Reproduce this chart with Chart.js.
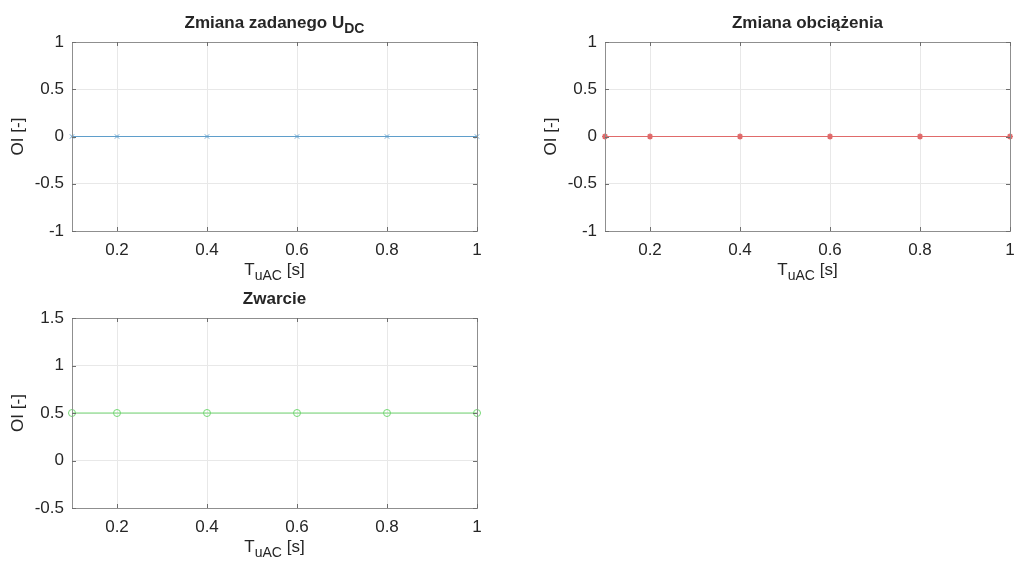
<!DOCTYPE html>
<html>
<head>
<meta charset="utf-8">
<script src="https://cdn.jsdelivr.net/npm/chart.js@4"></script>
<style>
  html, body { margin: 0; padding: 0; background: #fff; }
  body { width: 1016px; height: 563px; position: relative; overflow: hidden; }
  .wrap { position: absolute; }
</style>
</head>
<body>
<div class="wrap" style="left:0;top:0;width:508px;height:281px;"><canvas id="c1"></canvas></div>
<div class="wrap" style="left:533px;top:0;width:483px;height:281px;"><canvas id="c2"></canvas></div>
<div class="wrap" style="left:0;top:276px;width:508px;height:282px;"><canvas id="c3"></canvas></div>
<script>
// dane
const tuac = [0.1, 0.2, 0.4, 0.6, 0.8, 1];
const oiUdc = [0, 0, 0, 0, 0, 0];
const oiObc = [0, 0, 0, 0, 0, 0];
const oiZw = [0.5, 0.5, 0.5, 0.5, 0.5, 0.5];

const xTicks = [0.2, 0.4, 0.6, 0.8, 1];
const yTicksA = [-1, -0.5, 0, 0.5, 1];
const yTicksB = [-0.5, 0, 0.5, 1, 1.5];

const FONT = "'Liberation Sans', Arial, Helvetica, sans-serif";
const TXT = '#262626';

// ramka, znaczniki osi, tytuły z indeksem dolnym
const matlabAxes = {
  id: 'matlabAxes',
  afterDraw(chart, args, opts) {
    const { ctx, chartArea: a, scales } = chart;
    ctx.save();
    // box
    ctx.strokeStyle = '#8f8f8f';
    ctx.lineWidth = 1;
    ctx.strokeRect(Math.round(a.left) + 0.5, Math.round(a.top) + 0.5,
                   Math.round(a.right - a.left), Math.round(a.bottom - a.top));
    // ticki do środka
    ctx.strokeStyle = '#6e6e6e';
    ctx.beginPath();
    scales.x.ticks.forEach(t => {
      const px = Math.round(scales.x.getPixelForValue(t.value)) + 0.5;
      ctx.moveTo(px, a.bottom); ctx.lineTo(px, a.bottom - 4);
      ctx.moveTo(px, a.top); ctx.lineTo(px, a.top + 4);
    });
    scales.y.ticks.forEach(t => {
      const py = Math.round(scales.y.getPixelForValue(t.value)) + 0.5;
      ctx.moveTo(a.left, py); ctx.lineTo(a.left + 4, py);
      ctx.moveTo(a.right, py); ctx.lineTo(a.right - 4, py);
    });
    ctx.stroke();

    ctx.fillStyle = TXT;
    const cx = (a.left + a.right) / 2;
    // tytuł
    drawSub(ctx, opts.title, opts.titleSub, cx, a.top - 14, 'bold 17px ' + FONT, 'bold 14px ' + FONT);
    // oś x
    drawSub(ctx, 'T', 'uAC', cx, a.bottom + 44, '17px ' + FONT, '14px ' + FONT, ' [s]');
    // oś y
    ctx.save();
    ctx.translate(18, (a.top + a.bottom) / 2);
    ctx.rotate(-Math.PI / 2);
    ctx.font = '17px ' + FONT;
    ctx.textAlign = 'center';
    ctx.textBaseline = 'middle';
    ctx.fillText('OI [-]', 0, 0);
    ctx.restore();
    ctx.restore();
  }
};

function drawSub(ctx, main, sub, cx, y, f1, f2, tail) {
  tail = tail || '';
  ctx.font = f1;
  const w1 = ctx.measureText(main).width;
  const w3 = ctx.measureText(tail).width;
  ctx.font = f2;
  const w2 = sub ? ctx.measureText(sub).width : 0;
  let x = cx - (w1 + w2 + w3) / 2;
  ctx.textAlign = 'left';
  ctx.textBaseline = 'alphabetic';
  ctx.font = f1;
  ctx.fillText(main, x, y);
  x += w1;
  if (sub) {
    ctx.font = f2;
    ctx.fillText(sub, x, y + 5);
    x += w2;
  }
  ctx.font = f1;
  ctx.fillText(tail, x, y);
}

function makeChart(id, ys, color, style, yTicks, title, titleSub, rightPad) {
  new Chart(document.getElementById(id), {
    type: 'line',
    data: {
      datasets: [{
        data: tuac.map((x, i) => ({ x, y: ys[i] })),
        borderColor: color,
        borderWidth: 1,
        pointStyle: style,
        pointRadius: style === 'circle' ? 3.5 : 3,
        pointBorderWidth: style === 'star' ? 1.5 : 1,
        pointBorderColor: color,
        pointBackgroundColor: 'rgba(0,0,0,0)',
        clip: false,
        tension: 0
      }]
    },
    options: {
      responsive: true,
      maintainAspectRatio: false,
      animation: false,
      layout: { padding: { top: 42, right: rightPad, left: 0, bottom: 0 } },
      plugins: {
        legend: { display: false },
        tooltip: { enabled: false },
        matlabAxes: { title, titleSub }
      },
      scales: {
        x: {
          type: 'linear',
          min: 0.1, max: 1,
          afterBuildTicks: s => { s.ticks = xTicks.map(v => ({ value: v })); },
          afterFit: s => { s.height = 50; s.paddingLeft = 0; s.paddingRight = 0; },
          grid: { color: '#e8e8e8', drawTicks: false },
          border: { display: false },
          ticks: { color: TXT, font: { family: FONT, size: 17 }, padding: 9,
                   maxRotation: 0, callback: v => String(v) }
        },
        y: {
          min: yTicks[0], max: yTicks[yTicks.length - 1],
          afterBuildTicks: s => { s.ticks = yTicks.map(v => ({ value: v })); },
          afterFit: s => { s.width = 72; s.paddingTop = 0; s.paddingBottom = 0; },
          grid: { color: '#e8e8e8', drawTicks: false },
          border: { display: false },
          ticks: { color: TXT, font: { family: FONT, size: 17 }, padding: 8,
                   callback: v => String(v) }
        }
      }
    },
    plugins: [matlabAxes]
  });
}

makeChart('c1', oiUdc, '#5f9ecb', 'crossRot', yTicksA, 'Zmiana zadanego U', 'DC', 31);
makeChart('c2', oiObc, '#e06a6a', 'star', yTicksA, 'Zmiana obciążenia', '', 6);
makeChart('c3', oiZw, '#74d874', 'circle', yTicksB, 'Zwarcie', '', 31);
</script>
</body>
</html>
